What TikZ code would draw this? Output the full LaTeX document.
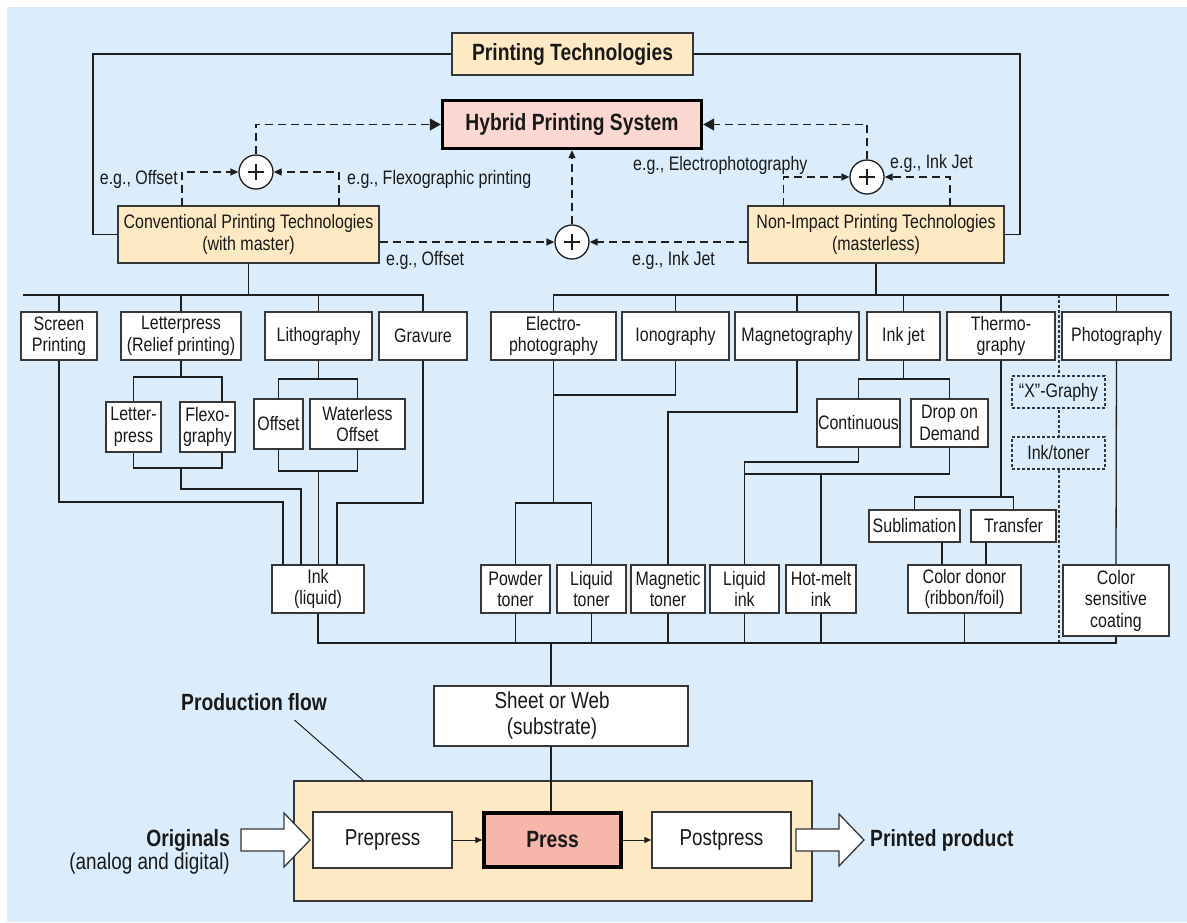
\documentclass[tikz,border=0pt]{standalone}
\usepackage{fontspec}
\setmainfont{Liberation Sans}[FakeStretch=0.82]
\usetikzlibrary{arrows.meta}
\definecolor{bgblue}{RGB}{219,237,251}
\definecolor{peach}{RGB}{253,233,196}
\definecolor{hybpink}{RGB}{250,215,208}
\definecolor{presspink}{RGB}{246,182,172}
\definecolor{ink}{RGB}{30,30,30}
\definecolor{boxline}{RGB}{55,55,55}
\definecolor{txt}{RGB}{25,25,25}
\newcommand\fsmall{\fontsize{19.5}{21.5}\selectfont}
\newcommand\flarge{\fontsize{23}{26}\selectfont}
\newcommand\fbold{\fontsize{23.5}{26}\selectfont\bfseries}

\begin{document}
\begin{tikzpicture}[x=1pt,y=-1pt,
  box/.style={draw=boxline, line width=1.4pt, fill=white, inner sep=0pt, align=center, font=\fsmall, text=txt},
  warm/.style={box, fill=peach},
  keybox/.style={box, draw=black, line width=3.4pt},
  dbox/.style={box, fill=bgblue, line width=1.2pt, dash pattern=on 3pt off 2pt},
  lbl/.style={inner sep=0pt, font=\fsmall, text=txt},
  conn/.style={draw=ink, line width=1.3pt},
  dconn/.style={conn, dash pattern=on 8pt off 5pt},
  sepline/.style={draw=boxline, line width=1.1pt, dash pattern=on 3pt off 2pt},
  tipS/.style={-{Triangle[length=8pt,width=7pt]}},
  tipL/.style={-{Triangle[length=11pt,width=12pt]}},
  hollow/.style={draw=boxline, fill=white, line width=1.3pt, line join=miter},
  plus/.style={circle, draw=ink, fill=white, line width=1.3pt, minimum size=34pt, inner sep=0pt,
    path picture={\draw[ink, line width=2.4pt]
      ([xshift=-8pt]path picture bounding box.center) -- ([xshift=8pt]path picture bounding box.center)
      ([yshift=-8pt]path picture bounding box.center) -- ([yshift=8pt]path picture bounding box.center);}},
]
\useasboundingbox (0,0) rectangle (1187,922);
\fill[bgblue] (7,7) rectangle (1187,922);

% dashed divider between the non-impact group and photography
\coordinate (sepT) at (1059,295);
\coordinate (sepB) at (1059,643);
\draw[sepline] (sepT) -- (sepB);

% ---------- top level ----------
\node[warm, minimum width=241pt, minimum height=42pt, font=\fbold] (pt) at (572.5,54) {Printing Technologies};
\node[keybox, fill=hybpink, minimum width=259pt, minimum height=48pt, font=\fbold] (hyb) at (572,124.5) {Hybrid Printing System};
\node[warm, minimum width=261pt, minimum height=57pt] (conv) at (248.5,234.5) {Conventional Printing Technologies\\(with master)};
\node[warm, minimum width=256pt, minimum height=57pt] (nip) at (876,234.5) {Non-Impact Printing Technologies\\(masterless)};

\node[plus] (lc) at (256,172) {};
\node[plus] (mc) at (572,242) {};
\node[plus] (rc) at (867,177) {};

\node[lbl, anchor=base east] (egOff1) at (178,184) {e.g., Offset};
\node[lbl, anchor=base west] (egFlexo) at (347,184) {e.g., Flexographic printing};
\node[lbl, anchor=base west] (egOff2) at (386,265) {e.g., Offset};
\node[lbl, anchor=base west] (egInk1) at (632,265) {e.g., Ink Jet};
\node[lbl, anchor=base west] (egElec) at (633,170) {e.g., Electrophotography};
\node[lbl, anchor=base west] (egInk2) at (890,168) {e.g., Ink Jet};

% ---------- conventional branch ----------
\node[box, minimum width=76pt, minimum height=48pt] (screen) at (59,336) {Screen\\Printing};
\node[box, minimum width=120pt, minimum height=48pt] (letter) at (181,336) {Letterpress\\(Relief printing)};
\node[box, minimum width=107pt, minimum height=48pt] (litho) at (318.5,336) {Lithography};
\node[box, minimum width=88pt, minimum height=48pt] (grav) at (423,336) {Gravure};

\node[box, minimum width=55pt, minimum height=50pt] (lp2) at (133.5,427) {Letter-\\press};
\node[box, minimum width=55pt, minimum height=50pt] (flexo) at (207.5,427) {Flexo-\\graphy};
\node[box, minimum width=49pt, minimum height=50pt] (offset) at (278.5,424) {Offset};
\node[box, minimum width=95pt, minimum height=50pt] (waterless) at (357.5,424) {Waterless\\Offset};

\node[box, minimum width=92pt, minimum height=48pt] (ink) at (318,589) {Ink\\(liquid)};

% ---------- non-impact branch ----------
\node[box, minimum width=125pt, minimum height=48pt] (electro) at (553.5,336) {Electro-\\photography};
\node[box, minimum width=107pt, minimum height=48pt] (iono) at (675.5,336) {Ionography};
\node[box, minimum width=124pt, minimum height=48pt] (magneto) at (797,336) {Magnetography};
\node[box, minimum width=73pt, minimum height=48pt] (inkjet) at (903.5,336) {Ink jet};
\node[box, minimum width=108pt, minimum height=48pt] (thermo) at (1001,336) {Thermo-\\graphy};
\node[box, minimum width=109pt, minimum height=48pt] (photo) at (1116.5,336) {Photography};

\node[box, minimum width=83pt, minimum height=48pt] (cont) at (858.5,423) {Continuous};
\node[box, minimum width=77pt, minimum height=48pt] (dod) at (949.5,423) {Drop on\\Demand};
\node[dbox, minimum width=93pt, minimum height=32pt] (xg) at (1058.5,392) {“X”-Graphy};
\node[dbox, minimum width=93pt, minimum height=32pt] (it) at (1058.5,453) {Ink/toner};
\node[box, minimum width=91pt, minimum height=32pt] (subl) at (914.5,526) {Sublimation};
\node[box, minimum width=85pt, minimum height=32pt] (transfer) at (1013.5,526) {Transfer};

\node[box, minimum width=69pt, minimum height=48pt] (powder) at (515.5,589) {Powder\\toner};
\node[box, minimum width=69pt, minimum height=48pt] (liqtoner) at (591.5,589) {Liquid\\toner};
\node[box, minimum width=74pt, minimum height=48pt] (magtoner) at (668,589) {Magnetic\\toner};
\node[box, minimum width=69pt, minimum height=48pt] (liqink) at (744.5,589) {Liquid\\ink};
\node[box, minimum width=70pt, minimum height=48pt] (hotmelt) at (821,589) {Hot-melt\\ink};
\node[box, minimum width=113pt, minimum height=48pt] (donor) at (964.5,589) {Color donor\\(ribbon/foil)};
\node[box, minimum width=106pt, minimum height=71pt] (csc) at (1116,600.5) {Color\\sensitive\\coating};

% ---------- production flow ----------
\node[box, font=\flarge, minimum width=254pt, minimum height=60pt] (sheet) at (561,716)
  {\hspace*{-18pt}Sheet or Web\\\hspace*{-18pt}(substrate)};
\node[warm, minimum width=518pt, minimum height=120pt] (flow) at (553,841) {};
\node[box, font=\flarge, minimum width=139pt, minimum height=56pt] (prepress) at (382.5,840) {Prepress};
\node[keybox, fill=presspink, font=\fbold, minimum width=137pt, minimum height=54pt] (press) at (552.5,840) {Press};
\node[box, font=\flarge, minimum width=139pt, minimum height=56pt] (postpress) at (721.5,840) {Postpress};

\node[lbl, font=\fbold, anchor=base west] (pflabel) at (181,710.5) {Production flow};
\node[lbl, font=\fbold, anchor=base east] (orig) at (230,846) {Originals};
\node[lbl, font=\flarge, anchor=base east] (origsub) at (230,869) {(analog and digital)};
\node[lbl, font=\fbold, anchor=base west] (product) at (870,846) {Printed product};

% input and output arrows
\draw[hollow] (241,829) -- (284,829) -- (284,813) -- (310,840) -- (284,867) -- (284,851) -- (241,851) -- cycle;
\draw[hollow] (796,829) -- (839,829) -- (839,814) -- (864,840) -- (839,866) -- (839,851) -- (796,851) -- cycle;

% ---------- connectors ----------
% frame from Printing Technologies to both families
\coordinate (ptL) at (93,150);
\coordinate (ptR) at (1020,150);
\draw[conn] (pt.west) -| (ptL) |- (conv.west);
\draw[conn] (pt.east) -| (ptR) |- (nip.east);

% hybrid combinations
\coordinate (cA) at (182,206);
\coordinate (cB) at (339,206);
\coordinate (nA) at (783.5,206);
\coordinate (nB) at (950,206);
\draw[dconn, tipS] (cA) |- (lc.west);
\draw[dconn, tipS] (cB) |- (lc.east);
\draw[dconn, tipL] (lc.north) |- (hyb.west);
\draw[dconn, tipS] (nA) |- (rc.west);
\draw[dconn, tipS] (nB) |- (rc.east);
\draw[dconn, tipL] (rc.north) |- (hyb.east);
\draw[dconn, tipS] (conv.east |- mc) -- (mc.west);
\draw[dconn, tipS] (nip.west |- mc) -- (mc.east);
\draw[dconn, tipS] (mc.north) -- (hyb.south);

% branch buses
\coordinate (lbus) at (23,295);
\draw[conn] (lbus) -- (grav.north |- lbus) -- (grav.north);
\draw[conn] (conv.south) -- (conv.south |- lbus);
\foreach \n in {screen,letter,litho} \draw[conn] (\n.north |- lbus) -- (\n.north);
\coordinate (rbus) at (1169,295);
\draw[conn] (electro.north) -- (electro.north |- rbus) -- (rbus);
\draw[conn] (nip.south) -- (nip.south |- rbus);
\foreach \n in {iono,magneto,inkjet,thermo,photo} \draw[conn] (\n.north |- rbus) -- (\n.north);

% letterpress family
\coordinate (lpj) at (181,377);
\coordinate (fxt) at (222,402);
\coordinate (fxb) at (222,452);
\coordinate (lpb) at (181,468);
\coordinate (lpk) at (181,489);
\coordinate (inkA) at (301,565);
\draw[conn] (letter.south) -- (lpj);
\draw[conn] (lp2.north) |- (lpj) -| (fxt);
\draw[conn] (lp2.south) |- (lpb) -| (fxb);
\draw[conn] (lpb) -- (lpk) -| (inkA);

% lithography family
\coordinate (lij) at (318.5,379);
\coordinate (lib) at (318.5,471);
\draw[conn] (litho.south) -- (lij);
\draw[conn] (offset.north) |- (lij) -| (waterless.north);
\draw[conn] (offset.south) |- (lib) -| (waterless.south);
\draw[conn] (lib) -- (lib |- ink.north);

% screen printing and gravure to ink
\coordinate (scrk) at (59,502);
\coordinate (inkS) at (283,565);
\coordinate (grk) at (423,503);
\coordinate (inkG) at (337,565);
\draw[conn] (screen.south) -- (scrk) -| (inkS);
\draw[conn] (grav.south) -- (grk) -| (inkG);

% electrophotography and ionography
\coordinate (elj) at (553.5,395);
\coordinate (elk) at (553.5,503);
\draw[conn] (iono.south) |- (elj);
\draw[conn] (electro.south) -- (elk);
\draw[conn] (powder.north) |- (elk) -| (liqtoner.north);

% magnetography
\coordinate (mgk) at (797,412);
\draw[conn] (magneto.south) -- (mgk) -| (magtoner.north);

% ink jet
\coordinate (ijj) at (903.5,379);
\coordinate (cj) at (744.5,462);
\coordinate (dj) at (744.5,474);
\draw[conn] (inkjet.south) -- (ijj);
\draw[conn] (cont.north) |- (ijj) -| (dod.north);
\draw[conn] (cont.south) |- (cj) -- (liqink.north);
\draw[conn] (dod.south) |- (dj);
\draw[conn] (hotmelt.north) -- (hotmelt.north |- dj);

% thermography
\coordinate (thj) at (1001,497);
\coordinate (sbb) at (942,542);
\coordinate (trb) at (986,542);
\draw[conn] (thermo.south) -- (thj);
\draw[conn] (subl.north) |- (thj) -| (transfer.north);
\draw[conn] (sbb) -- (sbb |- donor.north);
\draw[conn] (trb) -- (trb |- donor.north);

% photography
\draw[conn] (photo.south) -- (csc.north);

% collecting bus to the substrate
\coordinate (bbR) at (1116,643);
\coordinate (bbC) at (551,643);
\draw[conn] (ink.south) |- (bbR) -- (csc.south);
\foreach \n in {powder,liqtoner,magtoner,liqink,hotmelt,donor} \draw[conn] (\n.south) -- (\n.south |- bbR);
\draw[conn] (bbC) -- (bbC |- sheet.north);
\draw[conn] (bbC |- sheet.south) -- (bbC |- press.north);

% production flow
\coordinate (pfa) at (294.5,720);
\coordinate (pfb) at (364,781);
\draw[conn, line width=1pt] (pfa) -- (pfb);
\draw[conn, line width=1pt, -{Triangle[length=7pt,width=6pt]}] (prepress.east) -- (press.west);
\draw[conn, line width=1pt, -{Triangle[length=7pt,width=6pt]}] (press.east) -- (postpress.west);
\end{tikzpicture}
\end{document}
